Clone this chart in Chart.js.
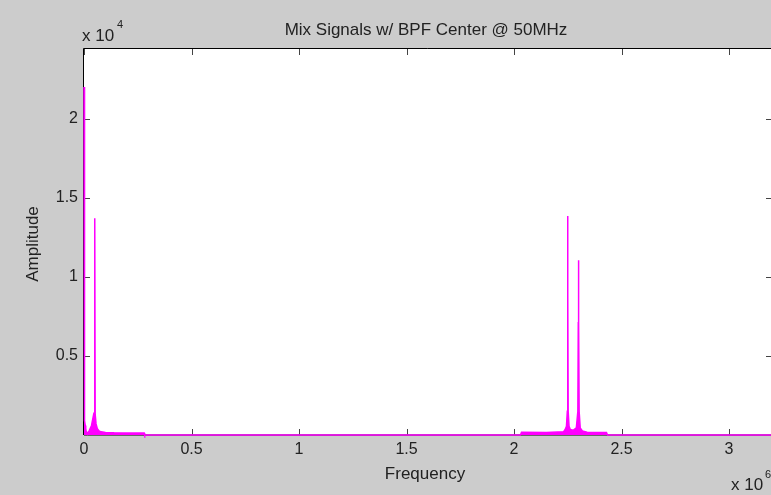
<!DOCTYPE html>
<html>
<head>
<meta charset="utf-8">
<title>Mix Signals w/ BPF Center @ 50MHz</title>
<script src="https://cdn.jsdelivr.net/npm/chart.js@4/dist/chart.umd.min.js"></script>
<style>
  html, body { margin: 0; padding: 0; overflow: hidden; background: #cccccc; }
  #wrap { width: 780px; height: 495px; }
</style>
</head>
<body>
<div id="wrap"><canvas id="myChart" width="780" height="495"></canvas></div>
<script>
// spectrum points (Hz, amplitude)
const freqHz = [
  0, 1000, 2500, 4000, 6000, 8000, 10000, 14000, 18000, 25000, 35000, 45000, 48000,
  50000, 52000, 56000, 62000, 70000, 80000, 100000, 140000, 200000, 280000, 282000,
  2030000, 2035000, 2150000, 2230000, 2238000, 2244000, 2248000, 2249000, 2250000,
  2251000, 2252000, 2256000, 2262000, 2275000, 2290000, 2297000, 2299000, 2300000,
  2301000, 2303000, 2308000, 2318000, 2340000, 2430000, 2435000, 3200000
];
const amplitude = [
  22000, 2100, 1500, 900, 600, 400, 250, 150, 120, 300, 600, 1300, 1200,
  13700, 1300, 700, 400, 250, 200, 160, 140, 130, 130, 0,
  0, 170, 160, 200, 350, 550, 1500, 8900, 13850,
  8900, 1500, 550, 350, 300, 450, 1500, 7100, 11050,
  7100, 1500, 450, 250, 180, 160, 0, 0
];
const xTicks = [0, 0.5, 1, 1.5, 2, 2.5, 3];   // x 10^6
const yTicks = [0.5, 1, 1.5, 2];              // x 10^4
const xMax = 3.2e6;
const yMax = 24400;

const ctx = document.getElementById('myChart');
const textColor = '#222222';
const fontFam = '"Liberation Sans", Arial, Helvetica, sans-serif';

const puntos = freqHz.map((f, i) => ({ x: f, y: amplitude[i] }));

// fondo gris, ejes estilo matlab y textos
const matlabFrame = {
  id: 'matlabFrame',
  beforeDraw(chart) {
    const c = chart.ctx;
    const a = chart.chartArea;
    c.save();
    c.fillStyle = '#cccccc';
    c.fillRect(0, 0, chart.width, chart.height);
    c.fillStyle = '#ffffff';
    c.fillRect(a.left, a.top, a.right - a.left, a.bottom - a.top);
    c.restore();
  },
  beforeDatasetsDraw(chart) {
    const c = chart.ctx;
    const a = chart.chartArea;
    const xs = chart.scales.x;
    const ys = chart.scales.y;
    c.save();
    c.strokeStyle = '#000000';
    c.lineWidth = 1;
    c.beginPath();
    c.moveTo(a.left - 0.5, a.bottom);
    c.lineTo(a.left - 0.5, a.top - 0.5);
    c.lineTo(a.right, a.top - 0.5);
    c.lineTo(a.right, a.bottom);
    c.lineTo(a.left, a.bottom);
    c.stroke();
    c.strokeStyle = '#444444';
    c.beginPath();
    xTicks.forEach(v => {
      const px = Math.round(xs.getPixelForValue(v * 1e6)) + 0.5;
      c.moveTo(px, a.bottom); c.lineTo(px, a.bottom - 6);
      c.moveTo(px, a.top); c.lineTo(px, a.top + 6);
    });
    yTicks.forEach(v => {
      const py = Math.round(ys.getPixelForValue(v * 1e4)) + 0.5;
      c.moveTo(a.left, py); c.lineTo(a.left + 6, py);
      c.moveTo(a.right, py); c.lineTo(a.right - 6, py);
    });
    c.stroke();
    c.restore();
  },
  afterDraw(chart) {
    const c = chart.ctx;
    c.save();
    c.fillStyle = textColor;
    c.font = '17px ' + fontFam;
    c.textAlign = 'center';
    c.textBaseline = 'middle';
    c.fillText('Mix Signals w/ BPF Center @ 50MHz', 426, 30);
    c.textBaseline = 'alphabetic';
    c.fillText('Frequency', 425, 479);
    c.save();
    c.translate(33, 244);
    c.rotate(-Math.PI / 2);
    c.textBaseline = 'middle';
    c.fillText('Amplitude', 0, 0);
    c.restore();
    // exponentes
    c.textAlign = 'left';
    c.textBaseline = 'alphabetic';
    c.fillText('x 10', 82, 41);
    c.fillText('x 10', 731, 490);
    c.font = '11px ' + fontFam;
    c.fillText('4', 117, 28);
    c.fillText('6', 765, 478);
    c.restore();
  }
};

new Chart(ctx, {
  type: 'line',
  data: {
    datasets: [{
      data: puntos,
      borderColor: '#ff00ff',
      backgroundColor: '#ff00ff',
      borderWidth: 1.5,
      fill: 'origin',
      pointRadius: 0,
      tension: 0,
      clip: 3
    }]
  },
  options: {
    responsive: false,
    devicePixelRatio: 1,
    animation: false,
    layout: { padding: { top: 49, right: 8, bottom: 0, left: 0 } },
    plugins: {
      legend: { display: false },
      tooltip: { enabled: false }
    },
    scales: {
      x: {
        type: 'linear',
        min: 0,
        max: xMax,
        grid: { display: false, drawTicks: false },
        border: { display: false },
        afterBuildTicks: (scale) => { scale.ticks = xTicks.map(v => ({ value: v * 1e6 })); },
        afterFit: (scale) => { scale.height = 60; },
        ticks: {
          autoSkip: false,
          maxRotation: 0,
          padding: 5,
          color: textColor,
          font: { family: fontFam, size: 16 },
          callback: (value) => String(value / 1e6)
        }
      },
      y: {
        type: 'linear',
        min: 0,
        max: yMax,
        grid: { display: false, drawTicks: false },
        border: { display: false },
        afterBuildTicks: (scale) => { scale.ticks = yTicks.map(v => ({ value: v * 1e4 })); },
        afterFit: (scale) => { scale.width = 84; },
        ticks: {
          autoSkip: false,
          padding: 6,
          color: textColor,
          font: { family: fontFam, size: 16 },
          callback: (value) => String(value / 1e4)
        }
      }
    }
  },
  plugins: [matlabFrame]
});
</script>
</body>
</html>
